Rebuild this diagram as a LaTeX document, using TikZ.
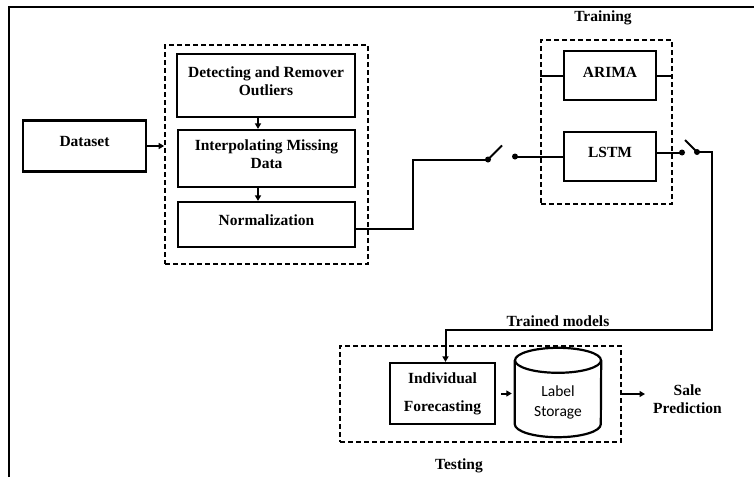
\documentclass[tikz,border=0pt]{standalone}
\usepackage{fontspec}
\setmainfont{Liberation Serif}
\newfontfamily\storagefont{Carlito}
\usetikzlibrary{arrows.meta}
\begin{document}
\begin{tikzpicture}[x=1pt,y=-1pt,
  box/.style={draw, line width=2.2pt, inner sep=0pt},
  group/.style={draw, line width=1.7pt, dash pattern=on 5pt off 3pt, inner sep=0pt},
  txt/.style={font=\fontsize{15.5}{18}\selectfont\bfseries, align=center, inner sep=0pt},
  wire/.style={line width=2pt},
  arr/.style={line width=2pt, -{Triangle[length=5.5pt,width=6pt]}},
  contact/.style={circle, fill, inner sep=0pt, minimum size=6pt}]

\useasboundingbox (0,0) rectangle (754,477);
\fill[white] (0,0) rectangle (754,477);
% outer frame
\draw[line width=2.8pt] (9,477) -- (9,7) -- (754,7);

% input
\node[box, minimum width=123pt, minimum height=51pt,
      label={[txt, yshift=5pt]center:Dataset}] (ds) at (84.5,146) {};

% preprocessing stage
\node[group, minimum width=203pt, minimum height=219pt] (prep) at (266.5,154.5) {};
\node[box, minimum width=178pt, minimum height=63pt,
      label={[txt, yshift=4pt]center:Detecting and Remover\\Outliers}] (det) at (266,85.5) {};
\node[box, minimum width=177pt, minimum height=57pt,
      label={[txt, yshift=4pt]center:Interpolating Missing\\Data}] (interp) at (266.5,158.5) {};
\node[box, minimum width=177pt, minimum height=45pt,
      label={[txt, yshift=4pt]center:Normalization}] (norm) at (266.5,224.5) {};
\coordinate (ax) at (258,0);

% training stage
\node[group, minimum width=131pt, minimum height=164pt] (train) at (606.5,122) {};
\node[txt] (traintitle) at (603,18) {Training};
\node[box, minimum width=92pt, minimum height=49pt,
      label={[txt, yshift=3pt]center:ARIMA}] (arima) at (610,75.5) {};
\node[box, minimum width=92pt, minimum height=49pt,
      label={[txt, yshift=4pt]center:LSTM}] (lstm) at (610,156.5) {};

% switch contacts
\node[contact] (s1a) at (488,159.5) {};
\node[contact] (s1b) at (515,156.5) {};
\node[contact] (s2a) at (682,152.5) {};
\node[contact] (s2b) at (697,152) {};

% testing stage
\node[group, minimum width=281pt, minimum height=96pt] (test) at (480.5,394) {};
\node[txt] (testtitle) at (459,466) {Testing};
\node[box, minimum width=105pt, minimum height=61pt,
      label={[txt]center:Individual\\[10pt]Forecasting}] (indiv) at (442.5,393.5) {};
% storage cylinder
\node[minimum width=86pt, minimum height=89pt, inner sep=0pt,
      label={[font=\storagefont\fontsize{15.5}{20}\selectfont, align=center, yshift=-10pt]center:Label\\Storage}]
      (storage) at (558,392.5) {};
\draw[line width=2.2pt] ([yshift=-12.5pt]storage.north west) -- ([yshift=13pt]storage.south west)
      arc[start angle=180, end angle=0, x radius=43, y radius=13]
      -- ([yshift=-12.5pt]storage.north east);
\draw[line width=2.2pt] ([yshift=-12.5pt]storage.north) ellipse[x radius=43, y radius=12.5];

\node[txt, anchor=west] (sale) at (653,399) {\hphantom{P}Sale\hphantom{P}\\Prediction};
\node[txt] (trained) at (558,321) {Trained models};

% connectors
\draw[arr] (ds.east) -- (ds.east -| prep.west);
\draw[arr] (det.south -| ax) -- (interp.north -| ax);
\draw[arr] (interp.south -| ax) -- (norm.north -| ax);

\draw[wire] ([yshift=-4pt]norm.east) -- ++(57,0) |- (s1a.center);
\draw[wire] (s1a.center) -- ++(14,-14);
\draw[wire] (s1b.center) -- (s1b.center -| lstm.west);

\draw[wire] (arima.west) -- (arima.west -| train.west);
\draw[wire] (arima.east) -- (arima.east -| train.east);

\draw[wire] (s2a.center -| lstm.east) -- (s2a.center);
\draw[wire] (s2b.center) -- ++(-12,-12);
\draw[arr] (s2b.center) -| ++(15,178) -| ([xshift=3pt]indiv.north);

\draw[arr, shorten <=5pt, shorten >=3pt] (indiv.east) -- (indiv.east -| storage.west);
\draw[arr, shorten >=8pt] (test.east) -- (test.east -| sale.west);
\end{tikzpicture}
\end{document}
